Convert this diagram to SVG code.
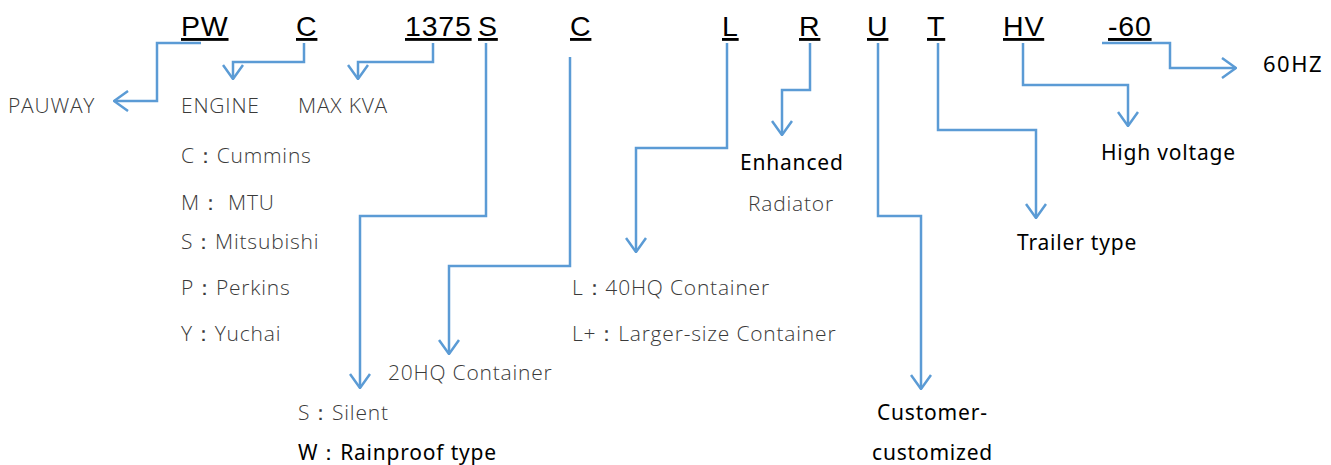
<svg xmlns="http://www.w3.org/2000/svg" width="1331" height="465" viewBox="0 0 1331 465">
<style>
.code{font-family:"Liberation Sans",Arial,sans-serif;font-size:28.5px;letter-spacing:0.8px;fill:#000;text-decoration:underline;}
.lt{font-family:"Open Sans","Noto Sans",sans-serif;font-weight:300;font-size:21px;letter-spacing:0.8px;fill:#3a3a3a;}
.bk{font-family:"Noto Sans","Open Sans",sans-serif;font-size:21px;letter-spacing:0.8px;fill:#000;}
.ar{fill:#000;font-family:"Noto Sans",sans-serif;font-size:22px;letter-spacing:1.5px;}
.con path{fill:none;stroke:#5B9BD5;stroke-width:2.5;marker-end:url(#ah);}
</style>
<defs>
<marker id="ah" viewBox="0 0 16 22" refX="15" refY="11" markerWidth="16" markerHeight="22" markerUnits="userSpaceOnUse" orient="auto">
<path d="M1,1 L15,11 L1,21" fill="none" stroke="#5B9BD5" stroke-width="2.5"/>
</marker>
</defs>
<rect width="1331" height="465" fill="#fff"/>
<g id="codes">
<text id="c-pw" class="code" x="181" y="36">PW</text>
<text id="c-c" class="code" x="296" y="36">C</text>
<text id="c-1375" class="code" x="405" y="36">1375</text>
<text id="c-s" class="code" x="478" y="36">S</text>
<text id="c-c2" class="code" x="570" y="36">C</text>
<text id="c-l" class="code" x="722" y="36">L</text>
<text id="c-r" class="code" x="799" y="36">R</text>
<text id="c-u" class="code" x="867" y="36">U</text>
<text id="c-t" class="code" x="927" y="36">T</text>
<text id="c-hv" class="code" x="1003" y="36">HV</text>
<text id="c-60" class="code" x="1108" y="36">-60</text>
</g>
<g id="connectors" class="con">
<path d="M201,43 H157 V101 H114"/>
<path d="M304,43 V62 H233 V79"/>
<path d="M433,43 V62 H358 V79"/>
<path d="M486,43 V216 H360 V388"/>
<path d="M570,57 V266 H449 V354"/>
<path d="M727,43 V148 H636 V252"/>
<path d="M810,43 V90 H782 V135"/>
<path d="M878,43 V216 H921 V389"/>
<path d="M938,43 V130 H1036 V218"/>
<path d="M1023,43 V85 H1128 V126"/>
<path d="M1102,43 H1170 V68 H1236"/>
</g>
<g id="n-pauway"><text class="lt" x="8" y="113">PAUWAY</text></g>
<g id="n-engine">
<text class="lt" x="181" y="113">ENGINE</text>
<text class="lt" x="181" y="163">C：Cummins</text>
<text class="lt" x="181" y="210">M： MTU</text>
<text class="lt" x="181" y="249">S：Mitsubishi</text>
<text class="lt" x="181" y="295">P：Perkins</text>
<text class="lt" x="181" y="341">Y：Yuchai</text>
</g>
<g id="n-kva"><text class="lt" x="298" y="113">MAX KVA</text></g>
<g id="n-silent">
<text class="lt" x="298" y="420">S：Silent</text>
<text class="bk" x="298" y="460">W：Rainproof type</text>
</g>
<g id="n-20hq"><text class="lt" x="388" y="380">20HQ Container</text></g>
<g id="n-40hq">
<text class="lt" x="572" y="295">L：40HQ Container</text>
<text class="lt" x="572" y="341">L+：Larger-size Container</text>
</g>
<g id="n-radiator">
<text class="bk" x="740" y="170">Enhanced</text>
<text class="lt" x="748" y="211">Radiator</text>
</g>
<g id="n-custom">
<text class="bk" x="877" y="420">Customer-</text>
<text class="bk" x="872" y="460">customized</text>
</g>
<g id="n-trailer"><text class="bk" x="1017" y="250">Trailer type</text></g>
<g id="n-hv"><text class="bk" x="1101" y="160">High voltage</text></g>
<g id="n-60hz"><text class="ar" x="1263" y="72">60HZ</text></g>
</svg>
